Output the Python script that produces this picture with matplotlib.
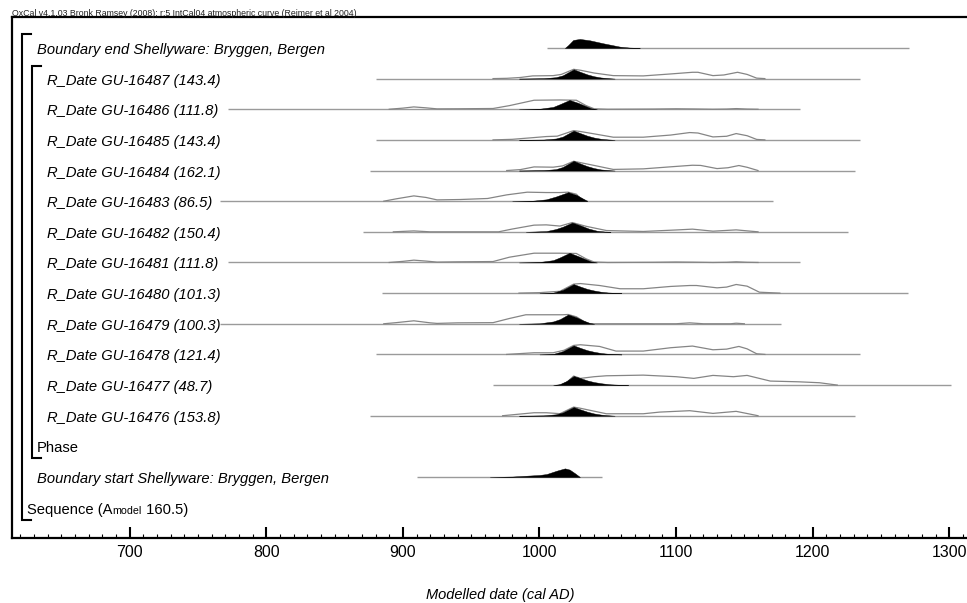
import matplotlib
matplotlib.use("Agg")
import matplotlib.pyplot as plt
from matplotlib.ticker import MultipleLocator
from matplotlib.transforms import offset_copy

plt.rcParams['font.family'] = ['Liberation Sans', 'DejaVu Sans']

# ---------------------------------------------------------------- data
header = ("OxCal v4.1.03 Bronk Ramsey (2008); r:5 IntCal04 atmospheric curve "
          "(Reimer et al 2004)")
x_label = "Modelled date (cal AD)"

row_labels = [
    "Boundary end Shellyware: Bryggen, Bergen",
    "R_Date GU-16487 (143.4)",
    "R_Date GU-16486 (111.8)",
    "R_Date GU-16485 (143.4)",
    "R_Date GU-16484 (162.1)",
    "R_Date GU-16483 (86.5)",
    "R_Date GU-16482 (150.4)",
    "R_Date GU-16481 (111.8)",
    "R_Date GU-16480 (101.3)",
    "R_Date GU-16479 (100.3)",
    "R_Date GU-16478 (121.4)",
    "R_Date GU-16477 (48.7)",
    "R_Date GU-16476 (153.8)",
    "Phase",
    "Boundary start Shellyware: Bryggen, Bergen",
]
sequence_label = ("Sequence (A", "model", " 160.5)")

# plotted date range of each distribution (cal AD)
span_start = [1005.6, 880.5, 772, 880.5, 876, 766, 871, 772, 885, 766, 880.5, 966, 876, None, 910]
span_end = [1270.5, 1235, 1190.6, 1235, 1231, 1171, 1226, 1190.6, 1270, 1176.6, 1235, 1301, 1231, None, 1045.6]

# unmodelled (calibrated) likelihoods: (year, relative probability)
prior_16487 = [(966, 0), (976, 0.03), (986, 0.12), (995, 0.29), (1010, 0.32), (1016, 0.45),
               (1025, 1.0), (1030, 0.9), (1040, 0.6), (1054, 0.32), (1076, 0.29), (1096, 0.5),
               (1112, 0.68), (1116, 0.68), (1127, 0.32), (1135, 0.39), (1145, 0.68),
               (1152, 0.45), (1159, 0.05), (1165, 0)]
prior_16486 = [(890, 0), (900, 0.12), (908, 0.25), (917, 0.15), (925, 0.04), (940, 0.05),
               (966, 0.08), (978, 0.39), (996, 0.97), (1015, 1.0), (1027, 0.97), (1034, 0.4),
               (1040, 0.05), (1050, 0), (1083, 0.02), (1100, 0.05), (1113, 0.03), (1127, 0),
               (1137, 0.02), (1144, 0.07), (1152, 0.02), (1160, 0)]
prior_16485 = [(966, 0), (980, 0.06), (996, 0.25), (1005, 0.36), (1013, 0.4), (1025, 1.0),
               (1030, 0.9), (1040, 0.65), (1054, 0.29), (1076, 0.29), (1096, 0.52),
               (1110, 0.79), (1116, 0.74), (1127, 0.32), (1137, 0.39), (1144, 0.68),
               (1152, 0.45), (1159, 0.05), (1165, 0)]
prior_16484 = [(976, 0), (986, 0.1), (996, 0.39), (1010, 0.36), (1017, 0.5), (1025, 1.0),
               (1030, 0.85), (1040, 0.55), (1054, 0.12), (1076, 0.18), (1096, 0.4),
               (1112, 0.57), (1118, 0.55), (1130, 0.21), (1138, 0.3), (1146, 0.54),
               (1152, 0.35), (1160, 0)]
prior_16483 = [(886, 0), (895, 0.25), (908, 0.57), (917, 0.4), (925, 0.14), (942, 0.18),
               (962, 0.29), (976, 0.68), (991, 0.97), (1005, 0.93), (1015, 0.93),
               (1021, 0.97), (1027, 0.75), (1030, 0.3), (1035, 0)]
prior_16482 = [(893, 0), (908, 0.1), (920, 0), (970, 0), (980, 0.3), (996, 0.72),
               (1005, 0.75), (1015, 0.62), (1024, 1.0), (1034, 0.6), (1049, 0.14),
               (1076, 0.04), (1100, 0.2), (1112, 0.29), (1127, 0.07), (1144, 0.21), (1160, 0)]
prior_16481 = [(890, 0), (900, 0.12), (908, 0.25), (917, 0.15), (925, 0.04), (940, 0.07),
               (966, 0.1), (978, 0.57), (996, 1.0), (1015, 1.0), (1027, 0.97), (1034, 0.4),
               (1040, 0.05), (1050, 0), (1083, 0.02), (1100, 0.05), (1113, 0.03), (1127, 0),
               (1137, 0.02), (1144, 0.07), (1152, 0.02), (1160, 0)]
prior_16480 = [(985, 0), (1000, 0.05), (1015, 0.2), (1025, 0.97), (1030, 1.03), (1044, 0.82),
               (1059, 0.47), (1076, 0.47), (1096, 0.72), (1110, 0.82), (1115, 0.82),
               (1130, 0.57), (1137, 0.65), (1144, 0.93), (1152, 0.75), (1161, 0.1), (1176, 0)]
prior_16479 = [(886, 0), (895, 0.12), (908, 0.32), (920, 0.1), (925, 0.04), (940, 0.1),
               (966, 0.12), (978, 0.57), (990, 0.97), (1017, 0.97), (1021, 1.0), (1027, 0.75),
               (1032, 0.3), (1036, 0), (1100, 0), (1110, 0.1), (1120, 0), (1140, 0),
               (1144, 0.06), (1150, 0)]
prior_16478 = [(976, 0), (996, 0.18), (1010, 0.18), (1018, 0.45), (1025, 0.97), (1030, 1.04),
               (1044, 0.86), (1056, 0.36), (1076, 0.36), (1096, 0.72), (1112, 0.9),
               (1127, 0.5), (1137, 0.57), (1146, 0.86), (1152, 0.6), (1159, 0.07), (1165, 0)]
prior_16477 = [(1015, 0), (1020, 0.3), (1025, 0.97), (1030, 0.72), (1040, 0.9), (1049, 1.0),
               (1076, 1.07), (1100, 0.9), (1113, 0.72), (1127, 1.04), (1142, 0.9),
               (1152, 1.04), (1169, 0.43), (1190, 0.35), (1205, 0.25), (1218, 0)]
prior_16476 = [(973, 0), (996, 0.32), (1005, 0.32), (1015, 0.22), (1025, 0.93), (1030, 0.8),
               (1049, 0.21), (1076, 0.21), (1088, 0.39), (1110, 0.54), (1127, 0.25),
               (1144, 0.47), (1160, 0)]

# modelled (posterior) distributions: (year, relative probability)
post_end = [(1018.6, 0), (1021.1, 0.32), (1024.7, 0.86), (1029.6, 0.97), (1036.9, 0.82),
            (1046.7, 0.5), (1058.9, 0.14), (1066, 0.04), (1073.5, 0)]
post_16487 = [(985, 0), (1003, 0.04), (1012, 0.15), (1017, 0.35), (1025, 1.0), (1030, 0.72),
              (1035, 0.45), (1040, 0.25), (1045, 0.12), (1050, 0.05), (1055, 0)]
post_16486 = [(985, 0), (1000, 0.05), (1010, 0.25), (1015, 0.55), (1022, 1.0), (1028, 0.7),
              (1033, 0.4), (1038, 0.1), (1042, 0)]
post_16485 = [(985, 0), (1003, 0.04), (1012, 0.15), (1017, 0.35), (1025, 1.0), (1030, 0.72),
              (1035, 0.45), (1040, 0.25), (1045, 0.12), (1050, 0.05), (1055, 0)]
post_16484 = [(985, 0), (1003, 0.04), (1012, 0.15), (1017, 0.38), (1025, 1.04), (1030, 0.75),
              (1035, 0.47), (1040, 0.26), (1045, 0.12), (1050, 0.05), (1055, 0)]
post_16483 = [(980, 0), (995, 0.05), (1005, 0.2), (1012, 0.5), (1021, 0.97), (1027, 0.68),
              (1031, 0.35), (1035, 0)]
post_16482 = [(990, 0), (1005, 0.08), (1012, 0.3), (1017, 0.55), (1024, 1.0), (1030, 0.7),
              (1036, 0.35), (1042, 0.12), (1048, 0.03), (1052, 0)]
post_16481 = [(985, 0), (1000, 0.05), (1010, 0.25), (1015, 0.55), (1022, 1.04), (1028, 0.7),
              (1033, 0.4), (1038, 0.1), (1042, 0)]
post_16480 = [(1000, 0), (1010, 0.05), (1017, 0.35), (1025, 0.97), (1030, 0.7), (1035, 0.45),
              (1040, 0.28), (1045, 0.15), (1050, 0.07), (1056, 0.02), (1060, 0)]
post_16479 = [(985, 0), (1000, 0.05), (1010, 0.25), (1015, 0.5), (1021, 1.0), (1027, 0.7),
              (1032, 0.35), (1037, 0.08), (1040, 0)]
post_16478 = [(1000, 0), (1010, 0.05), (1017, 0.35), (1025, 0.97), (1030, 0.7), (1035, 0.45),
              (1040, 0.28), (1045, 0.15), (1050, 0.07), (1056, 0.02), (1060, 0)]
post_16477 = [(1010, 0), (1015, 0.1), (1020, 0.45), (1025, 0.97), (1030, 0.75), (1035, 0.5),
              (1040, 0.32), (1046, 0.18), (1052, 0.08), (1060, 0.02), (1065, 0)]
post_16476 = [(985, 0), (1003, 0.04), (1012, 0.15), (1017, 0.35), (1025, 0.93), (1030, 0.68),
              (1035, 0.43), (1040, 0.24), (1045, 0.12), (1050, 0.05), (1055, 0)]
post_start = [(963.7, 0), (980, 0.05), (990.6, 0.14), (1000, 0.22), (1005.2, 0.32),
              (1012.6, 0.68), (1018.6, 0.93), (1022, 0.8), (1026, 0.4), (1029.6, 0)]

priors = [None, prior_16487, prior_16486, prior_16485, prior_16484, prior_16483, prior_16482,
          prior_16481, prior_16480, prior_16479, prior_16478, prior_16477, prior_16476,
          None, None]
posteriors = [post_end, post_16487, post_16486, post_16485, post_16484, post_16483,
              post_16482, post_16481, post_16480, post_16479, post_16478, post_16477,
              post_16476, None, post_start]

x_ticks_major = [700, 800, 900, 1000, 1100, 1200, 1300]

# ---------------------------------------------------------------- layout
W, H, DPI = 967, 603, 100
fig = plt.figure(figsize=(W / DPI, H / DPI), dpi=DPI)
ax = fig.add_axes([12 / W, 1 - 538.3 / H, 955 / W, (538.3 - 17.3) / H])
ax.set_xlim(613.8, 1313.0)
ax.set_ylim(16.0, -1.0)          # one unit per row, first row at the top

PEAK = 0.303                      # row units for a relative probability of 1
GREY_BASE = '#9a9a9a'
GREY_LINE = '#858585'

# ---------------------------------------------------------------- distributions
for row, (s, e) in enumerate(zip(span_start, span_end)):
    if s is None:
        continue
    ax.plot([s, e], [row, row], color=GREY_BASE, lw=1.0, zorder=2,
            solid_capstyle='butt')
    pr = priors[row]
    if pr is not None:
        yrs = [p[0] for p in pr]
        val = [row - p[1] * PEAK for p in pr]
        ax.plot(yrs, val, color=GREY_LINE, lw=0.9, zorder=3)
    po = posteriors[row]
    if po is not None:
        yrs = [p[0] for p in po]
        val = [row - p[1] * PEAK for p in po]
        ax.fill_between(yrs, [row] * len(yrs), val, color='black', lw=0.3,
                        edgecolor='black', zorder=4)

# ---------------------------------------------------------------- labels
FS = 10.6
BASE_OFF = 0.196                  # label baseline sits a little below the row line
label_x = [632.1] + [639.4] * 12 + [632.1, 632.1]
for row, (txt, lx) in enumerate(zip(row_labels, label_x)):
    style = 'normal' if txt == 'Phase' else 'italic'
    ax.text(lx, row + BASE_OFF, txt, fontsize=FS, style=style, va='baseline',
            ha='left', zorder=6)

# sequence label with small "model" word after the A
renderer = fig.canvas.get_renderer()
seq_row = 15
t1 = ax.text(624.8, seq_row + BASE_OFF, sequence_label[0], fontsize=FS,
             va='baseline', ha='left')
w1 = t1.get_window_extent(renderer=renderer).width
t2 = ax.text(624.8, seq_row + BASE_OFF, sequence_label[1], fontsize=FS * 0.72,
             va='baseline', ha='left',
             transform=offset_copy(ax.transData, fig=fig, x=w1, y=0, units='dots'))
w2 = t2.get_window_extent(renderer=renderer).width
ax.text(624.8, seq_row + BASE_OFF, sequence_label[2], fontsize=FS,
        va='baseline', ha='left',
        transform=offset_copy(ax.transData, fig=fig, x=w1 + w2, y=0, units='dots'))

# brackets for Sequence and Phase
def bracket(x_v, x_h, top, bottom):
    ax.plot([x_h, x_v, x_v, x_h], [top, top, bottom, bottom], color='black',
            lw=1.5, solid_joinstyle='miter', zorder=5)

bracket(620.9, 627.7, -0.457, 15.39)
bracket(628.2, 635.0, 0.587, 13.39)

# ---------------------------------------------------------------- axes styling
ax.spines['right'].set_visible(False)
for side in ('top', 'left', 'bottom'):
    ax.spines[side].set_linewidth(1.6)
    ax.spines[side].set_color('black')

ax.set_yticks([])
ax.xaxis.set_minor_locator(MultipleLocator(10))
ax.set_xticks(x_ticks_major)
ax.set_xticklabels([str(v) for v in x_ticks_major])
ax.tick_params(axis='x', which='major', direction='in', length=7.7, width=1.5,
               labelsize=11.4, pad=5, top=False)
ax.tick_params(axis='x', which='minor', direction='in', length=2.9, width=0.8,
               top=False)

fig.text(12 / W, 1 - 15.5 / H, header, fontsize=6.35, color='#222222',
         ha='left', va='baseline')
fig.text(500.5 / W, 1 - 595 / H, x_label, fontsize=10.5, style='italic',
         ha='center', va='center')

fig.savefig('out.png', dpi=DPI)
